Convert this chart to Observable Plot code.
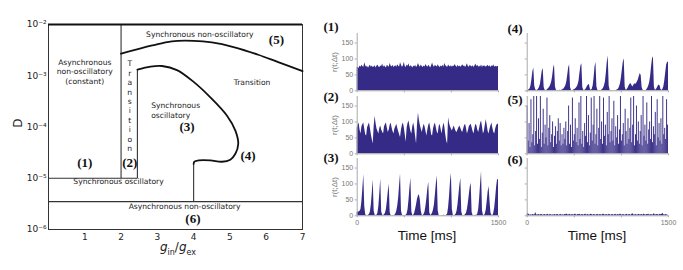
<!DOCTYPE html>
<html><head><meta charset="utf-8">
<script src="https://cdn.jsdelivr.net/npm/d3@7"></script>
<script src="https://cdn.jsdelivr.net/npm/@observablehq/plot@0.6"></script>
<style>
body{margin:0;background:#fff;}
#root{position:relative;width:683px;height:270px;overflow:hidden;background:#fff;}
#root svg{position:absolute;}
.lbl{position:absolute;white-space:nowrap;transform:translate(-50%,-50%);line-height:1;}
</style></head><body><div id="root"></div>
<script>
// ---------- phase diagram data ----------
const xTicks = [1,2,3,4,5,6,7];
const yTicks = [1e-6,1e-5,1e-4,1e-3,1e-2];
const yTickLabels = ["10⁻⁶","10⁻⁵","10⁻⁴","10⁻³","10⁻²"];
const topCurve = [[2.0,2.69e-3],[2.86,3.9e-3],[3.4,4.7e-3],[4.0,4.8e-3],[4.5,4.47e-3],[5.1,3.63e-3],[5.78,2.57e-3],[6.33,1.84e-3],[7.0,1.23e-3]];
const innerCurve = [[2.45,1.32e-3],[2.81,1.51e-3],[3.13,1.55e-3],[3.54,1.29e-3],[4.0,7.6e-4],[4.46,3.8e-4],[4.92,1.66e-4],[5.15,8.5e-5],[5.23,4.7e-5],[5.15,3.0e-5],[5.01,2.3e-5],[4.78,2.1e-5],[4.46,2.24e-5],[4.14,2.24e-5],[4.02,2.1e-5],[4.0,1.9e-5]];
const edges = [[2,1e-5,2,1e-2],[0,1e-5,2.45,1e-5],[2.45,1e-5,2.45,1.32e-3],[4,3.5e-6,4,1.9e-5],[0,3.5e-6,7,3.5e-6]];
const regionText = [
  {x:4.17,y:6.6e-3,text:"Synchronous non-oscillatory",anchor:"middle"},
  {x:1.0,y:1.23e-3,text:"Asynchronous\nnon-oscillatory\n(constant)",anchor:"middle"},
  {x:2.24,y:2.6e-4,text:"T\nr\na\nn\ns\ni\nt\ni\no\nn",anchor:"middle"},
  {x:5.61,y:7.6e-4,text:"Transition",anchor:"middle"},
  {x:2.83,y:2.2e-4,text:"Synchronous\noscillatory",anchor:"start"},
  {x:1.93,y:8.7e-6,text:"Synchronous oscillatory",anchor:"middle"},
  {x:3.75,y:2.9e-6,text:"Asynchronous non-oscillatory",anchor:"middle"}
];
const regionNums = [
  {x:1.0,y:2.0e-5,text:"(1)"},{x:2.24,y:2.0e-5,text:"(2)"},{x:3.82,y:1.02e-4,text:"(3)"},
  {x:5.5,y:2.7e-5,text:"(4)"},{x:6.28,y:5.1e-3,text:"(5)"},{x:3.98,y:1.6e-6,text:"(6)"}
];

// ---------- firing-rate histograms r(t;Δt), 150 bins over 0..1500 ms ----------
const timeDomain = [0,1500];
const rateTicks = [0,50,100,150];
const timeTicks = [0,500,1000,1500];
const timeTickLabels = ["0","","","1500"];
const rate1 = [72,75,70,78,74,80,76,73,88,79,74,77,71,76,80,74,78,73,75,79,
72,77,81,75,73,78,76,84,74,79,75,72,80,77,74,86,78,75,80,73,
76,79,74,82,77,75,88,80,74,78,90,76,73,81,77,85,74,79,76,72,
78,75,80,73,77,86,79,74,81,76,73,78,75,83,77,74,80,76,72,79,
87,78,74,80,77,75,82,76,73,78,75,80,74,86,79,76,73,81,77,75,
79,74,78,76,83,77,73,80,75,78,74,77,82,76,79,73,78,85,76,74,
80,77,75,79,73,78,84,76,80,74,77,75,81,73,79,76,78,74,77,80,
75,79,73,78,76,82,74,77,75,76];
const rate2 = [80,90,97,75,62,85,92,97,78,60,56,82,90,97,80,60,45,31,85,118,
95,78,70,62,80,87,75,68,62,85,92,97,80,67,75,90,97,82,70,62,
78,85,93,80,70,60,51,75,90,97,82,60,36,80,95,103,85,70,62,85,
97,80,55,31,90,128,105,90,78,67,80,93,85,70,56,75,90,97,80,60,
56,78,90,97,82,68,62,85,93,78,62,80,97,85,60,40,31,113,95,85,
78,72,80,87,78,70,67,75,82,87,80,72,67,78,88,93,80,62,72,85,
90,93,82,70,62,80,93,88,75,67,80,95,103,85,62,70,90,108,90,70,
62,78,88,97,80,68,62,78,88,93];
const rate3 = [10,12,12,14,20,45,85,130,30,3,1,0,2,4,12,35,70,113,15,2,
1,2,8,30,70,116,12,2,1,3,8,20,45,75,99,10,1,0,1,0,
2,6,14,30,55,95,131,15,2,0,1,0,2,6,20,50,88,118,12,1,
2,8,20,35,52,62,66,50,15,2,1,4,12,30,55,85,105,10,1,3,
8,18,35,65,100,125,15,1,0,0,1,0,2,1,0,2,6,25,60,105,
134,20,2,0,2,5,14,35,65,95,118,12,1,0,1,3,8,20,40,65,
90,102,10,1,0,1,2,1,6,20,55,100,139,15,2,1,5,18,45,75,
92,45,8,2,0,8,25,55,90,113];
const rate4 = [0,1,3,6,15,35,60,72,15,3,1,2,5,10,20,40,62,70,10,2,
1,2,5,8,12,18,28,45,70,82,12,2,0,1,0,2,1,2,4,6,
10,16,28,48,72,82,10,1,0,2,3,5,8,12,18,30,55,78,85,10,
2,1,3,8,14,18,20,6,1,5,15,40,75,90,12,2,0,1,0,2,
4,8,15,28,55,90,109,15,2,0,1,0,0,1,0,2,3,6,12,22,
40,65,90,101,12,2,3,8,14,20,23,18,12,16,22,20,23,28,35,45,
54,48,10,2,0,1,0,3,8,15,25,45,75,100,107,12,2,3,8,14,
18,16,4,1,4,12,30,55,80,90];
const rate5 = [150,40,95,20,170,35,60,180,25,70,180,30,110,45,180,20,65,140,30,90,
50,175,25,80,120,35,60,100,20,55,85,30,70,110,40,95,25,60,30,80,
45,100,25,70,150,30,90,20,175,40,60,110,35,80,25,160,45,180,30,70,
20,95,55,180,35,120,25,65,175,40,90,180,30,60,140,25,80,180,45,100,
30,175,55,90,25,130,60,180,35,70,110,40,165,25,85,50,120,30,75,180,
40,60,95,25,140,70,30,110,45,80,175,35,90,180,25,60,150,40,100,30,
70,120,25,180,55,90,40,160,30,75,100,45,180,35,85,60,130,25,170,50,
95,40,110,30,180,60,80,45,170,90];
const rate6 = [3,8,4,2,3,2,4,3,2,10,3,2,4,3,2,5,3,2,3,4,2,3,5,2,3,4,2,3,2,4,
3,2,5,3,2,3,4,2,3,2,4,3,6,3,2,5,3,2,4,3,2,6,3,2,4,3,5,2,3,4,
2,3,6,2,3,4,2,3,5,3,2,4,3,2,3,5,2,3,4,2,3,6,3,2,4,3,2,5,3,2,
3,4,2,3,5,2,3,4,2,6,3,2,4,3,2,3,5,2,3,4,2,3,7,3,2,4,3,2,3,5,
2,3,4,2,6,3,2,4,3,5,2,3,4,2,3,7,2,3,4,3,2,5,3,4,8,3,2,4,3,2];
const panelNames = ["(1)","(2)","(3)","(4)","(5)","(6)"];

const navy = "#352b86";
const root = document.getElementById("root");

function place(el, left, top){ el.style.left = left+"px"; el.style.top = top+"px"; root.appendChild(el); }
function label(html, x, y, css){
  const d = document.createElement("div"); d.className="lbl"; d.innerHTML = html;
  d.style.left = x+"px"; d.style.top = y+"px"; Object.assign(d.style, css||{}); root.appendChild(d);
}

// ---------- left phase diagram ----------
const phase = Plot.plot({
  width: 320, height: 270, marginLeft: 48, marginRight: 18, marginTop: 24, marginBottom: 41,
  x: {domain: [0,7]},
  y: {type: "log", domain: [1e-6,1e-2]},
  style: {fontFamily: "DejaVu Sans", fontSize: "9px", color: "#222", background: "transparent"},
  marks: [
    Plot.frame({stroke: "#333", strokeWidth: 1}),
    Plot.link(edges, {x1: d=>d[0], y1: d=>d[1], x2: d=>d[2], y2: d=>d[3], stroke: "#333", strokeWidth: 1.1}),
    Plot.ruleY([1e-2], {stroke: "#111", strokeWidth: 2.2}),
    Plot.line(topCurve, {x: d=>d[0], y: d=>d[1], curve: "catmull-rom", stroke: "#111", strokeWidth: 1.8}),
    Plot.line(innerCurve, {x: d=>d[0], y: d=>d[1], curve: "catmull-rom", stroke: "#111", strokeWidth: 1.8}),
    Plot.text(regionText.filter(d=>d.anchor==="middle"), {x:"x", y:"y", text:"text", textAnchor:"middle", lineAnchor:"middle", fontSize: 7.6, lineHeight: 1.24, fill:"#222"}),
    Plot.text(regionText.filter(d=>d.anchor==="start"), {x:"x", y:"y", text:"text", textAnchor:"start", lineAnchor:"middle", fontSize: 7.6, lineHeight: 1.3, fill:"#222"}),
    Plot.text(regionNums, {x:"x", y:"y", text:"text", fontFamily:"Liberation Serif", fontWeight:"bold", fontSize: 13, fill:"#111"}),
    Plot.axisX({ticks: xTicks, tickFormat: d => String(d), tickSize: 0, tickPadding: 4, label: null, fontSize: 9}),
    Plot.axisY({ticks: yTicks, tickFormat: d => yTickLabels[yTicks.indexOf(d)], tickSize: 0, tickPadding: 2, label: null, fontSize: 9})
  ]
});
place(phase, 0, 0);
label("D", 18, 123, {fontFamily:"DejaVu Sans", fontSize:"12px", color:"#222", transform:"translate(-50%,-50%) rotate(-90deg)"});
label("<i>g</i><sub style='font-size:8px'>in</sub>/<i>g</i><sub style='font-size:8px'>ex</sub>", 178, 249, {fontFamily:"DejaVu Sans", fontSize:"12px", color:"#222"});

// ---------- right histograms ----------
const panelTops = [33, 96, 158];
const panelH = 57.3;
const nameY = [[26, 96, 157], [28, 99, 159]];
function panel(vals, col, row, bars){
  const n = vals.length;
  const step = timeDomain[1] / n;
  const data = vals.map((v,i)=>({t: i*step, v}));
  const left = col === 0 ? 320 : 510;
  const mL = col === 0 ? 36.7 : 16.7;
  const mT = 4, mB = row === 2 ? 16 : 4, mR = 12;
  const fillMark = bars
    ? Plot.rectY(data, {x1:"t", x2: d => d.t + step, y:"v", fill: navy, inset: 0})
    : Plot.areaY(data.concat([{t: timeDomain[1], v: vals[n-1]}]), {x:"t", y:"v", fill: navy});
  const p = Plot.plot({
    width: 141.3 + mL + mR, height: panelH + mT + mB,
    marginLeft: mL, marginRight: mR, marginTop: mT, marginBottom: mB,
    x: {domain: timeDomain}, y: {domain: [0,180]},
    style: {fontFamily: "Liberation Sans", fontSize: "7px", color: "#777", background: "transparent"},
    marks: [
      fillMark,
      Plot.ruleY([0], {stroke:"#aaa"}),
      Plot.ruleX([0], {stroke:"#aaa"}),
      Plot.axisY({ticks: rateTicks, tickSize: 2, tickPadding: 2, label: null, stroke:"#aaa", tickFormat: col===0 ? (d=>String(d)) : (()=> "")}),
      Plot.axisX({ticks: timeTicks, tickSize: 2, tickPadding: 2, label: null, stroke:"#aaa", tickFormat: row===2 ? (d => timeTickLabels[timeTicks.indexOf(d)]) : (()=>"")})
    ]
  });
  place(p, left, panelTops[row] - mT);
  label(panelNames[col*3+row], col===0 ? 331 : 515, nameY[col][row], {fontFamily:"Liberation Serif", fontWeight:"bold", fontSize:"13px", color:"#111"});
  if (col === 0) label("r(t;Δt)", 335, panelTops[row] + panelH/2, {fontFamily:"Liberation Sans", fontSize:"8px", color:"#777", transform:"translate(-50%,-50%) rotate(-90deg)"});
}
[rate1, rate2, rate3].forEach((v,i)=>panel(v, 0, i, false));
[rate4, rate5, rate6].forEach((v,i)=>panel(v, 1, i, i === 1));
label("Time [ms]", 427, 236, {fontFamily:"Liberation Sans", fontSize:"13.5px", color:"#111"});
label("Time [ms]", 597, 236, {fontFamily:"Liberation Sans", fontSize:"13.5px", color:"#111"});
</script></body></html>
